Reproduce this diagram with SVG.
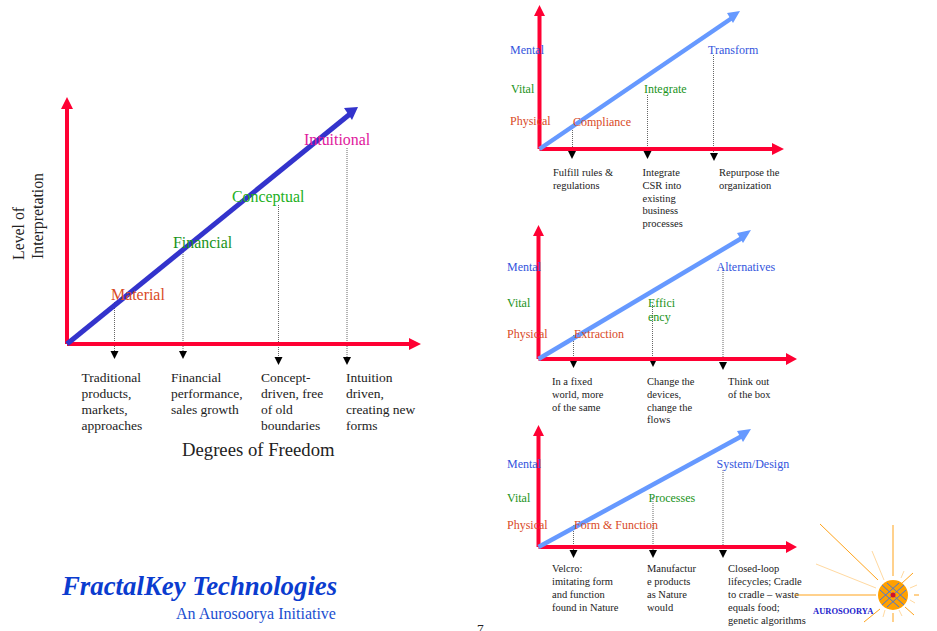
<svg xmlns="http://www.w3.org/2000/svg" width="937" height="631" viewBox="0 0 937 631">
<style>
text{font-family:"Liberation Serif","Times New Roman",serif;fill:#222}
.ax{stroke:#ff0033;fill:none}
.ahr{fill:#ff0033}
.ahb{fill:#3333cc}
.ahl{fill:#6699ff}
.dot{stroke:#666;stroke-width:1;stroke-dasharray:1 1;fill:none}
.tip{fill:#000}
.d{font-size:13.5px}
.s{font-size:10.5px}
.l{font-size:15.9px}
.m{font-size:12px}
.bl{fill:#3355dd}.gr{fill:#1a931a}.rd{fill:#d94a26}.mg{fill:#e0189c}
.ray{stroke:#ffa31a;fill:none;stroke-width:1}
.ray2{stroke:#ffd9a0;fill:none;stroke-width:1}
</style>
<defs>
<path id="t" class="tip" d="M-4 0H4L0 8Z"/>
</defs>
<g id="connectors">
<g id="c-left">
<path class="dot" d="M114.500 302V352M183 248V352M278.500 205V360M347 148V360"/>
<use href="#t" x="114.500" y="351"/><use href="#t" x="183" y="351"/><use href="#t" x="278.500" y="357"/><use href="#t" x="347" y="357"/>
<path class="ax" stroke-width="4" d="M67 344V106M67 344H412"/>
<path class="ahr" d="M61 109L67 97L73 109ZM409 338L421 344L409 350Z"/>
<path d="M67 344L350 114" stroke="#3333cc" stroke-width="5" fill="none"/>
<path class="ahb" d="M344 108L358 107L352 120Z"/>
</g>
<g id="c-a">
<path class="dot" d="M572.500 128V152M647.500 95V152M713.500 55V152"/>
<use href="#t" x="572" y="151"/><use href="#t" x="647.500" y="151"/><use href="#t" x="714" y="153"/>
<path class="ax" stroke-width="4" d="M539.500 149V12M539.500 149H775"/>
<path class="ahr" d="M534 16L539.500 5L545 16ZM772 143L784 149L772 155Z"/>
<path d="M539.500 149L732 18" stroke="#6699ff" stroke-width="4.500" fill="none"/>
<path class="ahl" d="M727 13L740 11L733 23Z"/>
</g>
<g id="c-b">
<path class="dot" d="M573.500 335V362M652.500 305V362M723 268V362"/>
<use href="#t" x="573.500" y="360"/><use href="#t" x="653" y="359"/><use href="#t" x="723" y="362"/>
<path class="ax" stroke-width="4" d="M538.500 359V232M538.500 359H790"/>
<path class="ahr" d="M533 236L538.500 225L544 236ZM786 353L797 359L786 365Z"/>
<path d="M538.500 359L742 238" stroke="#6699ff" stroke-width="4.500" fill="none"/>
<path class="ahl" d="M737 233L751 230L743 243Z"/>
</g>
<g id="c-c">
<path class="dot" d="M573.500 525V552M653 497V552M723 470V552"/>
<use href="#t" x="573.500" y="550"/><use href="#t" x="653" y="550"/><use href="#t" x="723" y="550"/>
<path class="ax" stroke-width="4" d="M538.500 547V432M538.500 547H790"/>
<path class="ahr" d="M533 436L538.500 425L544 436ZM786 541L797 547L786 553Z"/>
<path d="M538.500 547L742 436" stroke="#6699ff" stroke-width="4.500" fill="none"/>
<path class="ahl" d="M737 431L751 429L743 442Z"/>
</g>
</g>
<g id="axis-title">
<text transform="translate(24 260) rotate(-90)" font-size="15.800">Level of</text>
<text transform="translate(43 259) rotate(-90)" font-size="15.800">Interpretation</text>
<text x="182" y="456" font-size="18.700">Degrees of Freedom</text>
</g>
<g id="n-material"><text class="l rd" x="111" y="300">Material</text>
<text class="d" x="81.500" y="382">Traditional</text><text class="d" x="81.500" y="398">products,</text><text class="d" x="81.500" y="414">markets,</text><text class="d" x="81.500" y="430">approaches</text></g>
<g id="n-financial"><text class="l gr" x="173" y="248">Financial</text>
<text class="d" x="171" y="382">Financial</text><text class="d" x="171" y="398">performance,</text><text class="d" x="171" y="414">sales growth</text></g>
<g id="n-conceptual"><text class="l" style="fill:#22b022" x="232" y="202">Conceptual</text>
<text class="d" x="261" y="382">Concept-</text><text class="d" x="261" y="398">driven, free</text><text class="d" x="261" y="414">of old</text><text class="d" x="261" y="430">boundaries</text></g>
<g id="n-intuitional"><text class="l mg" x="304" y="145">Intuitional</text>
<text class="d" x="346" y="382">Intuition</text><text class="d" x="346" y="398">driven,</text><text class="d" x="346" y="414">creating new</text><text class="d" x="346" y="430">forms</text></g>

<g id="n-a-levels"><text class="m bl" x="510" y="54">Mental</text><text class="m gr" x="511" y="93">Vital</text><text class="m rd" x="510" y="125">Physical</text></g>
<g id="n-a1"><text class="m rd" x="573" y="126">Compliance</text><text class="s" x="553" y="176">Fulfill rules &amp;</text><text class="s" x="553" y="189">regulations</text></g>
<g id="n-a2"><text class="m gr" x="644" y="93">Integrate</text><text class="s" x="642.500" y="176">Integrate</text><text class="s" x="642.500" y="189">CSR into</text><text class="s" x="642.500" y="202">existing</text><text class="s" x="642.500" y="214">business</text><text class="s" x="642.500" y="227">processes</text></g>
<g id="n-a3"><text class="m bl" x="708" y="54">Transform</text><text class="s" x="719" y="176">Repurpose the</text><text class="s" x="719" y="189">organization</text></g>

<g id="n-b-levels"><text class="m bl" x="507" y="271">Mental</text><text class="m gr" x="507" y="307">Vital</text><text class="m rd" x="507" y="338">Physical</text></g>
<g id="n-b1"><text class="m rd" x="574" y="338">Extraction</text><text class="s" x="552" y="385">In a fixed</text><text class="s" x="552" y="398">world, more</text><text class="s" x="552" y="411">of the same</text></g>
<g id="n-b2"><text class="m gr" x="648" y="307">Effici</text><text class="m gr" x="648" y="321">ency</text><text class="s" x="647" y="385">Change the</text><text class="s" x="647" y="398">devices,</text><text class="s" x="647" y="411">change the</text><text class="s" x="647" y="423">flows</text></g>
<g id="n-b3"><text class="m bl" x="716.500" y="271">Alternatives</text><text class="s" x="728" y="385">Think out</text><text class="s" x="728" y="398">of the box</text></g>

<g id="n-c-levels"><text class="m bl" x="507" y="468">Mental</text><text class="m gr" x="507" y="502">Vital</text><text class="m rd" x="507" y="529">Physical</text></g>
<g id="n-c1"><text class="m rd" x="574" y="529">Form &amp; Function</text><text class="s" x="552" y="572">Velcro:</text><text class="s" x="552" y="585">imitating form</text><text class="s" x="552" y="598">and function</text><text class="s" x="552" y="611">found in Nature</text></g>
<g id="n-c2"><text class="m gr" x="648.500" y="502">Processes</text><text class="s" x="647" y="572">Manufactur</text><text class="s" x="647" y="585">e products</text><text class="s" x="647" y="598">as Nature</text><text class="s" x="647" y="611">would</text></g>
<g id="n-c3"><text class="m bl" x="716.500" y="468">System/Design</text><text class="s" x="728" y="572">Closed-loop</text><text class="s" x="728" y="585">lifecycles; Cradle</text><text class="s" x="728" y="598">to cradle – waste</text><text class="s" x="728" y="611">equals food;</text><text class="s" x="728" y="624">genetic algorithms</text></g>

<g id="brand">
<text x="62" y="595" font-size="26.800" font-weight="bold" font-style="italic" style="fill:#0b3ccf">FractalKey Technologies</text>
<text x="176" y="619" font-size="16" style="fill:#1a4fd0">An Aurosoorya Initiative</text>
<text x="477" y="633" font-size="13.500">7</text>
</g>
<g id="logo">
<path class="ray" d="M820 524L878 580M893 525V576M893 613V622M795 595H876M914 595H919M913 573L901 584M864 622L880 609M905 607L914 615"/>
<path class="ray2" d="M816 564L876 588M872 551L884 580M904 571L901 578M910 588L917 585M910 600L915 603M885 610L883 617M899 610L902 616"/>
<circle cx="893" cy="595" r="15" fill="#ffa000"/>
<path d="M882 585L904 605M882 605L904 585M887 583L906 600M880 590L899 607M899 583L880 600M906 590L887 607" stroke="#4477dd" stroke-width="1" fill="none"/>
<circle cx="893" cy="595" r="2.500" fill="#cc1133"/>
<text x="813" y="614" font-size="8.500" font-weight="bold" style="fill:#2222cc">AUROSOORYA</text>
</g>
</svg>
